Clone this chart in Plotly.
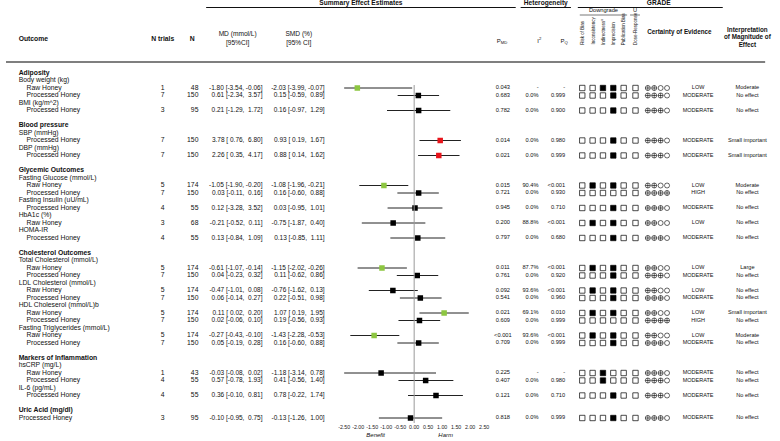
import plotly.graph_objects as go

# ---------------- DATA ----------------
table_lines = [
    ("Adiposity", "section"),
    ("Body weight (kg)", "outcome"),
    ("Raw Honey", "sub"),
    ("Processed Honey", "sub"),
    ("BMI (kg/m^2)", "outcome"),
    ("Processed Honey", "sub"),
    ("", "blank"),
    ("Blood pressure", "section"),
    ("SBP (mmHg)", "outcome"),
    ("Processed Honey", "sub"),
    ("DBP (mmHg)", "outcome"),
    ("Processed Honey", "sub"),
    ("", "blank"),
    ("Glycemic Outcomes", "section"),
    ("Fasting Glucose (mmol/L)", "outcome"),
    ("Raw Honey", "sub"),
    ("Processed Honey", "sub"),
    ("Fasting Insulin (uU/mL)", "outcome"),
    ("Processed Honey", "sub"),
    ("HbA1c (%)", "outcome"),
    ("Raw Honey", "sub"),
    ("HOMA-IR", "outcome"),
    ("Processed Honey", "sub"),
    ("", "blank"),
    ("Cholesterol Outcomes", "section"),
    ("Total Cholesterol (mmol/L)", "outcome"),
    ("Raw Honey", "sub"),
    ("Processed Honey", "sub"),
    ("LDL Cholesterol (mmol/L)", "outcome"),
    ("Raw Honey", "sub"),
    ("Processed Honey", "sub"),
    ("HDL Choleserol (mmol/L)b", "outcome"),
    ("Raw Honey", "sub"),
    ("Processed Honey", "sub"),
    ("Fasting Triglycerides (mmol/L)", "outcome"),
    ("Raw Honey", "sub"),
    ("Processed Honey", "sub"),
    ("", "blank"),
    ("Markers of Inflammation", "section"),
    ("hsCRP (mg/L)", "outcome"),
    ("Raw Honey", "sub"),
    ("Processed Honey", "sub"),
    ("IL-6 (pg/mL)", "outcome"),
    ("Processed Honey", "sub"),
    ("", "blank"),
    ("Uric Acid (mg/dl)", "section"),
    ("Processed Honey", "sub0"),
]

n_trials = [1, 7, 3, 7, 7, 5, 7, 4, 3, 4, 5, 7, 5, 7, 5, 7, 5, 7, 1, 4, 4, 3]
n_total = [48, 150, 95, 150, 150, 174, 150, 55, 68, 55, 174, 150, 174, 150, 174, 150, 174, 150, 43, 55, 55, 95]
md = [-1.80, 0.61, 0.21, 3.78, 2.26, -1.05, 0.03, 0.12, -0.21, 0.13, -0.61, 0.04, -0.47, 0.06, 0.11, 0.02, -0.27, 0.05, -0.03, 0.57, 0.36, -0.10]
md_lo = [-3.54, -2.34, -1.29, 0.76, 0.35, -1.90, -0.11, -3.28, -0.52, -0.84, -1.07, -0.23, -1.01, -0.14, 0.02, -0.06, -0.43, -0.19, -0.08, -0.78, -0.10, -0.95]
md_hi = [-0.06, 3.57, 1.72, 6.80, 4.17, -0.20, 0.16, 3.52, 0.11, 1.09, -0.14, 0.32, 0.08, 0.27, 0.20, 0.10, -0.10, 0.28, 0.02, 1.93, 0.81, 0.75]
smd = [-2.03, 0.15, 0.16, 0.93, 0.88, -1.08, 0.16, 0.03, -0.75, 0.13, -1.15, 0.11, -0.76, 0.22, 1.07, 0.19, -1.43, 0.16, -1.18, 0.41, 0.78, -0.13]
smd_lo = [-3.99, -0.59, -0.97, 0.19, 0.14, -1.96, -0.60, -0.95, -1.87, -0.85, -2.02, -0.62, -1.62, -0.51, 0.19, -0.56, -2.28, -0.60, -3.14, -0.56, -0.22, -1.26]
smd_hi = [-0.07, 0.89, 1.29, 1.67, 1.62, -0.21, 0.88, 1.01, 0.40, 1.11, -0.26, 0.86, 0.13, 0.98, 1.95, 0.93, -0.53, 0.88, 0.78, 1.40, 1.74, 1.00]
higher_is_better = [False] * 14 + [True, True] + [False] * 6
p_md = ["0.043", "0.683", "0.782", "0.014", "0.021", "0.015", "0.721", "0.945", "0.200", "0.797", "0.011",
        "0.761", "0.092", "0.541", "0.021", "0.609", "<0.001", "0.709", "0.225", "0.407", "0.121", "0.818"]
i2 = ["-", "0.0%", "0.0%", "0.0%", "0.0%", "90.4%", "0.0%", "0.0%", "88.8%", "0.0%", "87.7%",
      "0.0%", "93.6%", "0.0%", "69.1%", "0.0%", "93.6%", "0.0%", "-", "0.0%", "0.0%", "0.0%"]
p_q = ["-", "0.999", "0.900", "0.980", "0.999", "<0.001", "0.930", "0.710", "<0.001", "0.680", "<0.001",
       "0.920", "<0.001", "0.960", "0.010", "0.999", "<0.001", "0.999", "-", "0.980", "0.710", "0.999"]
down_risk_of_bias = [0] * 22
down_inconsistency = [0, 0, 0, 0, 0, 1, 0, 0, 1, 0, 1, 0, 1, 0, 1, 0, 1, 0, 0, 0, 0, 0]
down_indirectness = [1, 0, 0, 0, 0, 0, 0, 0, 0, 0, 0, 0, 0, 0, 0, 0, 0, 0, 1, 1, 0, 0]
down_imprecision = [1, 1, 1, 1, 1, 1, 0, 1, 1, 1, 1, 1, 1, 1, 1, 0, 1, 1, 0, 0, 1, 1]
down_publication_bias = [0] * 22
up_dose_response = [0] * 22
certainty = ["LOW", "MODERATE", "MODERATE", "MODERATE", "MODERATE", "LOW", "HIGH", "MODERATE", "LOW",
             "MODERATE", "LOW", "MODERATE", "LOW", "MODERATE", "LOW", "HIGH", "LOW", "MODERATE",
             "MODERATE", "MODERATE", "MODERATE", "MODERATE"]
interpretation = ["Moderate", "No effect", "No effect", "Small important", "Small important", "Moderate",
                  "No effect", "No effect", "No effect", "No effect", "Large", "No effect", "No effect",
                  "No effect", "Small important", "No effect", "Moderate", "No effect", "No effect",
                  "No effect", "No effect", "No effect"]
axis_ticks = [-2.5, -2.0, -1.5, -1.0, -0.5, 0.0, 0.5, 1.0, 1.5, 2.0, 2.5]
grade_headers = ["Risk of Bias", "Inconsistency", "Indirectness<sup>a</sup>", "Imprecision",
                 "Publication Bias", "Dose-Response"]

# ---------------- LAYOUT CONSTANTS ----------------
W, H = 780, 441
FONT = "Liberation Sans, Arial, Helvetica, sans-serif"
INK = "#111111"
ROW0, ROW_H = 73.0, 7.5
GREEN, RED, BLACK = "#8dc641", "#e8141b", "#000000"


def row_y(i):
    return ROW0 + ROW_H * i


def esc(s):
    return s.replace("<", "&lt;")


def pad(v):
    return ("\u00a0" if v >= 0 else "") + f"{v:.2f}"


data_idx = [i for i, (_, k) in enumerate(table_lines) if k in ("sub", "sub0")]
data_y = [row_y(i) for i in data_idx]

fig = go.Figure()


def text_trace(xs, ys, texts, size, position, color=INK):
    # zero-size invisible markers so the text sits exactly on its anchor point
    fig.add_trace(go.Scatter(
        x=xs, y=ys, text=texts, mode="markers+text", textposition=position,
        marker=dict(size=0, opacity=0),
        textfont=dict(size=size, color=color, family=FONT),
        hoverinfo="skip", showlegend=False, cliponaxis=False, xaxis="x", yaxis="y"))


# Outcome labels
lx, ly, lt = [], [], []
for i, (t, k) in enumerate(table_lines):
    if k == "blank":
        continue
    lx.append(16 if k == "sub" else 8)
    ly.append(row_y(i))
    lt.append(f"<b>{t}</b>" if k == "section" else t)
text_trace(lx, ly, lt, 6.8, "middle right")

text_trace([159] * 22, data_y, [str(v) for v in n_trials], 6.8, "middle center")
text_trace([200] * 22, data_y, [str(v) for v in n_total], 6.8, "middle left")
text_trace([265] * 22, data_y, [f"{pad(a)} [{pad(b)}, {pad(c)}]" for a, b, c in zip(md, md_lo, md_hi)],
           6.5, "middle left")
text_trace([328] * 22, data_y, [f"{pad(a)} [{pad(b)}, {pad(c)}]" for a, b, c in zip(smd, smd_lo, smd_hi)],
           6.5, "middle left")
text_trace([504] * 22, data_y, [esc(v) for v in p_md], 5.7, "middle center")
text_trace([545] * 22, data_y, [esc(v) for v in i2], 5.7, "middle left")
text_trace([572] * 22, data_y, [esc(v) for v in p_q], 5.7, "middle left")
text_trace([702] * 22, data_y, certainty, 5.5, "middle center")
text_trace([752] * 22, data_y, interpretation, 5.6, "middle center")

# Headers
text_trace([8], [39], ["<b>Outcome</b>"], 6.8, "middle right")
text_trace([159, 189], [39, 39], ["<b>N trials</b>", "<b>N</b>"], 6.8, "middle center")
text_trace([235, 235, 297, 297], [34, 43, 34, 43], ["MD (mmol/L)", "[95%CI]", "SMD (%)", "[95% CI]"],
           6.6, "middle center")
text_trace([503, 541, 566], [41, 41, 41], ["P<sub>MD</sub>", "I<sup>2</sup>", "P<sub>Q</sub>"],
           6.0, "middle center")
text_trace([360, 547.5, 662], [3.5, 3.5, 3.5],
           ["<b>Summary Effect Estimates</b>", "<b>Heterogeneity</b>", "<b>GRADE</b>"], 6.6, "middle center")
text_trace([606, 638], [11, 11], ["Downgrade", "U"], 5.7, "middle center")
text_trace([683], [32], ["<b>Certainty of Evidence</b>"], 6.3, "middle center")
text_trace([752, 752, 752], [30, 37.5, 45],
           ["<b>Interpretation</b>", "<b>of Magnitude of</b>", "<b>Effect</b>"], 6.3, "middle center")
text_trace([375, 446], [435, 435], ["<i>Benefit</i>", "<i>Harm</i>"], 6.0, "middle center")

# GRADE rotated headers
grade_x = [584.5, 595, 605.5, 616, 626.5, 638.5]
for gx, gt in zip(grade_x, grade_headers):
    fig.add_annotation(x=gx, y=46, xref="x", yref="y", text=gt, textangle=-90, showarrow=False,
                       xanchor="center", yanchor="bottom", borderpad=0,
                       font=dict(size=4.5, family=FONT, color=INK))

# GRADE boxes
flags = [down_risk_of_bias, down_inconsistency, down_indirectness, down_imprecision,
         down_publication_bias, up_dose_response]
bx, by, bs = [], [], []
for col, fl in enumerate(flags):
    for r in range(22):
        bx.append(grade_x[col])
        by.append(data_y[r])
        bs.append("square" if fl[r] else "square-open")
fig.add_trace(go.Scatter(x=bx, y=by, mode="markers", hoverinfo="skip", showlegend=False,
                         marker=dict(symbol=bs, size=5.4, color=BLACK, line=dict(width=0.7, color=BLACK)),
                         cliponaxis=False, xaxis="x", yaxis="y"))

# Certainty symbols
score = {"HIGH": 4, "MODERATE": 3, "LOW": 2, "VERY LOW": 1}
cert_x = [651, 657.5, 664, 670.5]
cx, cy, cs = [], [], []
for r in range(22):
    for k in range(4):
        cx.append(cert_x[k])
        cy.append(data_y[r])
        cs.append("circle-cross-open" if k < score[certainty[r]] else "circle-open")
fig.add_trace(go.Scatter(x=cx, y=cy, mode="markers", hoverinfo="skip", showlegend=False,
                         marker=dict(symbol=cs, size=5.0, color=BLACK, line=dict(width=0.6, color=BLACK)),
                         cliponaxis=False, xaxis="x", yaxis="y"))

# Forest plot (SMD)
lx2, ly2 = [], []
for a, b, yv in zip(smd_lo, smd_hi, data_y):
    lx2 += [a, b, None]
    ly2 += [yv, yv, None]
fig.add_trace(go.Scatter(x=lx2, y=ly2, mode="lines", line=dict(color="#222222", width=1),
                         hoverinfo="skip", showlegend=False, xaxis="x2", yaxis="y"))
colors = []
for e, lo, hi, hib in zip(smd, smd_lo, smd_hi, higher_is_better):
    sig = lo > 0 or hi < 0
    good = (e > 0) if hib else (e < 0)
    colors.append(BLACK if not sig else (GREEN if good else RED))
fig.add_trace(go.Scatter(x=smd, y=data_y, mode="markers", hoverinfo="skip", showlegend=False,
                         marker=dict(symbol="square", size=5.5, color=colors, line=dict(width=0)),
                         xaxis="x2", yaxis="y"))

# Rules
def hline(x0, x1, y, w=1.1, c="#111111", ref="x"):
    fig.add_shape(type="line", xref=ref, yref="y", x0=x0, x1=x1, y0=y, y1=y,
                  line=dict(color=c, width=w))

hline(203, 517, 7.5)
hline(522, 573, 7.5)
hline(580, 727, 7.5)
hline(582, 630, 15, w=0.8, c="#555555")
hline(633, 643, 15, w=0.8, c="#555555")
hline(0, 770, 62, w=1.5, c="#555555")
fig.add_shape(type="line", xref="x2", yref="y", x0=0, x1=0, y0=85, y1=423,
              line=dict(color="#999999", width=1))

fig.update_layout(
    width=W, height=H, margin=dict(l=0, r=0, t=0, b=0),
    paper_bgcolor="white", plot_bgcolor="rgba(0,0,0,0)",
    xaxis=dict(range=[0, W], domain=[0, 1], visible=False, fixedrange=True),
    yaxis=dict(range=[H, 0], domain=[0, 1], visible=False, fixedrange=True),
    xaxis2=dict(range=[-2.5, 2.5], domain=[343 / W, 485 / W], anchor="free", position=1 - 423 / H,
                tickvals=axis_ticks, ticktext=[f"{t:.2f}" for t in axis_ticks], tickangle=0,
                tickfont=dict(size=5.3, family=FONT, color="#222222"),
                showgrid=False, zeroline=False, showline=False, ticks="", fixedrange=True),
    showlegend=False,
)

fig.write_html(
    "out.html",
    config={"displayModeBar": False, "responsive": False},
    post_script="document.body.style.margin='0px';document.body.style.overflow='hidden';",
)
